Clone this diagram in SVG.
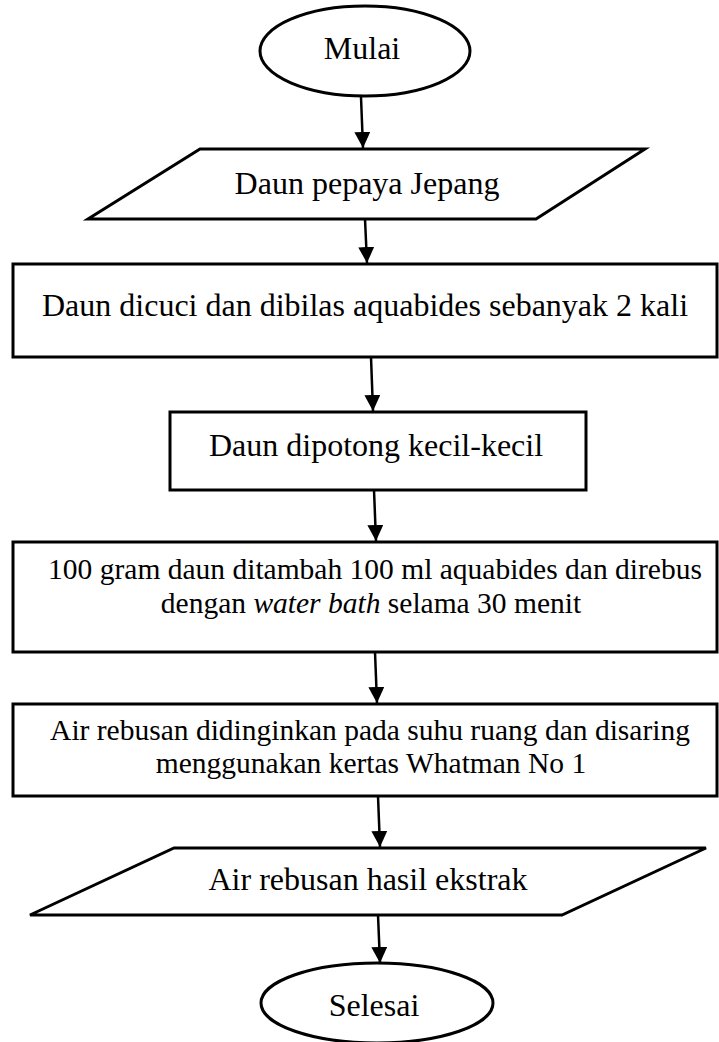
<svg xmlns="http://www.w3.org/2000/svg" width="719" height="1042" viewBox="0 0 719 1042">
<defs>
<marker id="ah" markerWidth="16" markerHeight="16" refX="16" refY="8" orient="auto" markerUnits="userSpaceOnUse" viewBox="0 0 16 16">
<path d="M0,0 L16,8 L0,16 Z" fill="#000"/>
</marker>
<style>
.s{fill:#fff;stroke:#000;stroke-width:3}
.t{font-family:"Liberation Serif","Times New Roman",serif;font-size:32px;fill:#000;text-anchor:middle}
.t2{font-size:29.5px}
.c{stroke:#000;stroke-width:2.5;fill:none;marker-end:url(#ah)}
</style>
</defs>
<rect width="719" height="1042" fill="#fff"/>
<g id="connectors">
<line class="c" x1="361" y1="97" x2="363" y2="148"/>
<line class="c" x1="365" y1="219" x2="367" y2="263"/>
<line class="c" x1="371" y1="357" x2="373" y2="411"/>
<line class="c" x1="374" y1="490" x2="376" y2="541"/>
<line class="c" x1="375" y1="652" x2="377" y2="703"/>
<line class="c" x1="378" y1="796" x2="380" y2="847"/>
<line class="c" x1="378" y1="915" x2="380" y2="963"/>
</g>
<g id="mulai"><ellipse class="s" cx="365" cy="51" rx="105" ry="45"/><text class="t" x="362" y="59">Mulai</text></g>
<g id="input1"><polygon class="s" points="200,149 645,149 536,219 88,219"/><text class="t" x="367" y="194">Daun pepaya Jepang</text></g>
<g id="step1"><rect class="s" x="13" y="264" width="704" height="93"/><text class="t" x="365" y="316">Daun dicuci dan dibilas aquabides sebanyak 2 kali</text></g>
<g id="step2"><rect class="s" x="170" y="412" width="416" height="78"/><text class="t" x="376" y="456">Daun dipotong kecil-kecil</text></g>
<g id="step3"><rect class="s" x="13" y="542" width="704" height="110"/><text class="t t2" x="375" y="579">100 gram daun ditambah 100 ml aquabides dan direbus</text><text class="t t2" x="371" y="613">dengan <tspan font-style="italic">water bath</tspan> selama 30 menit</text></g>
<g id="step4"><rect class="s" x="13" y="704" width="704" height="92"/><text class="t t2" x="370" y="740">Air rebusan didinginkan pada suhu ruang dan disaring</text><text class="t t2" x="371" y="773">menggunakan kertas Whatman No 1</text></g>
<g id="output1"><polygon class="s" points="174,848 706,848 562,915 30,915"/><text class="t" x="368" y="890">Air rebusan hasil ekstrak</text></g>
<g id="selesai"><ellipse class="s" cx="377" cy="1003" rx="116" ry="40"/><text class="t" x="374" y="1016">Selesai</text></g>
</svg>
